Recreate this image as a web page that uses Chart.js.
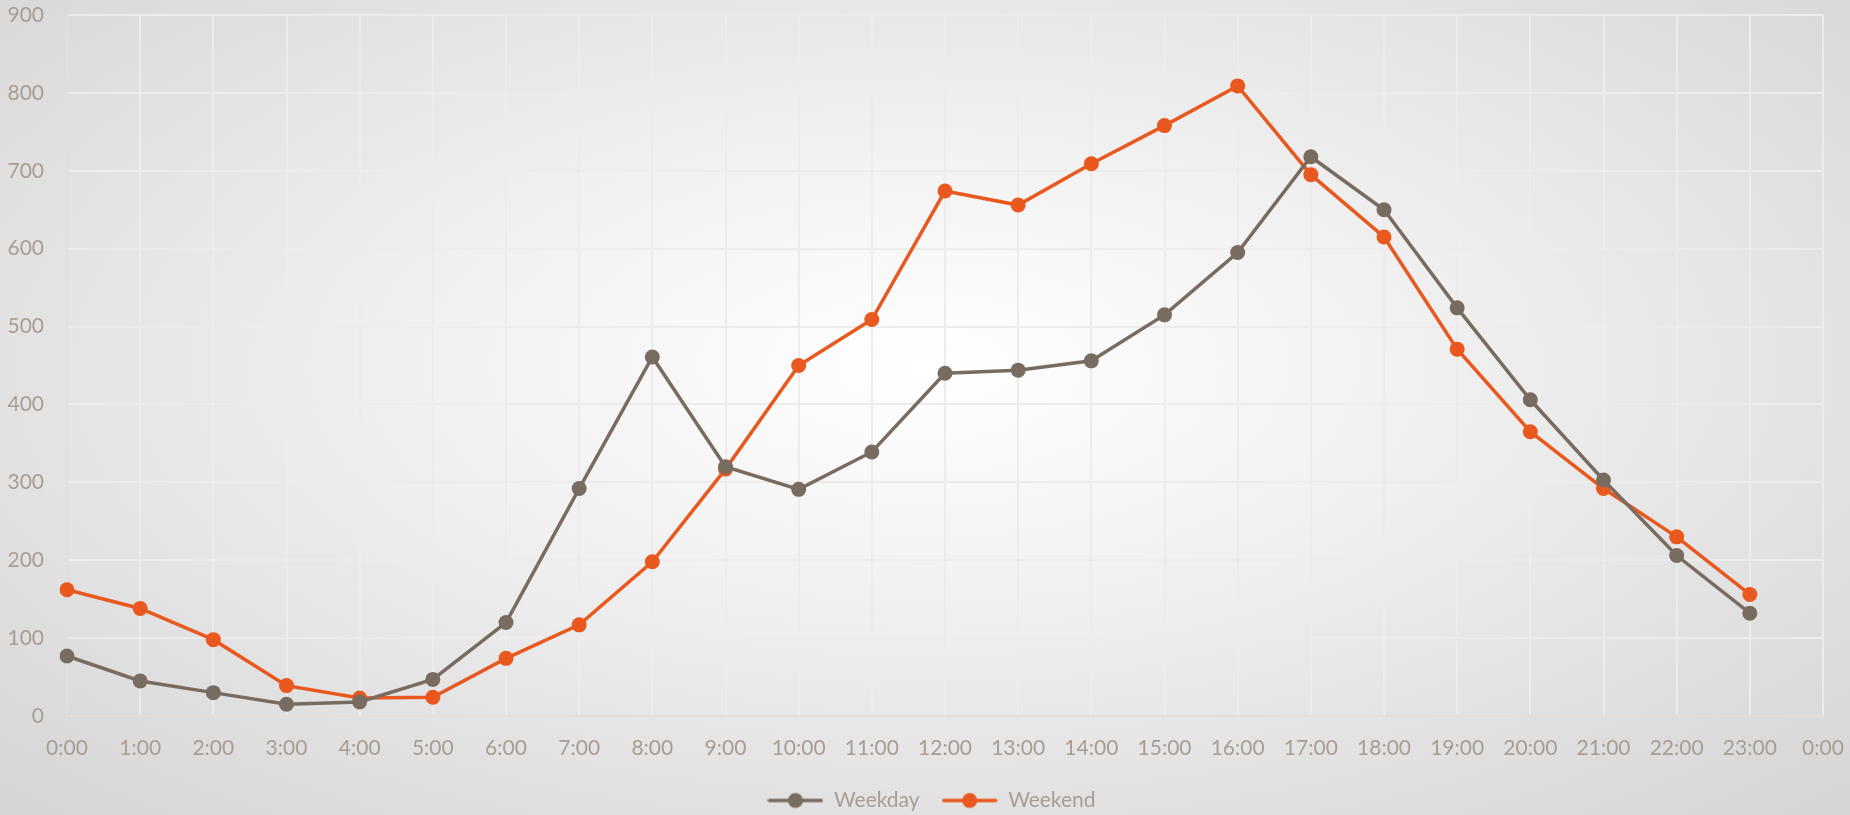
<!DOCTYPE html>
<html>
<head>
<meta charset="utf-8">
<script src="https://cdn.jsdelivr.net/npm/chart.js@4/dist/chart.umd.min.js"></script>
<style>
  html, body { margin: 0; padding: 0; }
  body {
    width: 1850px; height: 815px; overflow: hidden;
    background: radial-gradient(ellipse 75% 80% at 50% 45%, #ffffff 0%, #f1f1f1 35%, #dedede 75%, #d3d3d3 100%);
  }
  #wrap { position: relative; width: 1850px; height: 815px; }
</style>
</head>
<body>
<div id="wrap"><canvas id="chart"></canvas></div>
<script>
// hour labels (last 0:00 closes the day, no value)
var horas = ['0:00','1:00','2:00','3:00','4:00','5:00','6:00','7:00','8:00','9:00','10:00','11:00',
             '12:00','13:00','14:00','15:00','16:00','17:00','18:00','19:00','20:00','21:00','22:00','23:00','0:00'];

var weekday = [77, 45, 30, 15, 18, 47, 120, 292, 461, 320, 291, 339,
               440, 444, 456, 515, 595, 718, 650, 524, 406, 303, 206, 132];

var weekend = [162, 138, 98, 39, 23, 24, 74, 117, 198, 317, 450, 509,
               674, 656, 709, 758, 809, 695, 615, 471, 365, 292, 230, 156];

var color_weekday = '#786c61';
var color_weekend = '#e8581f';
var color_texto = '#a89d92';
var color_grid = '#eeecea';
var fuente = 'Lato, "Open Sans", sans-serif';

// little line + dot icon for the legend
function icono_leyenda(color){
    var c = document.createElement('canvas');
    c.width = 56; c.height = 18;
    var g = c.getContext('2d');
    g.strokeStyle = color;
    g.lineWidth = 3.5;
    g.lineCap = 'round';
    g.beginPath(); g.moveTo(2, 9); g.lineTo(54, 9); g.stroke();
    g.fillStyle = color;
    g.beginPath(); g.arc(28, 9, 7.5, 0, Math.PI*2); g.fill();
    return c;
}
var iconos = [icono_leyenda(color_weekday), icono_leyenda(color_weekend)];

// nudge the legend a bit to the right, like the original
const mover_leyenda = {
  id: 'mover_leyenda',
  afterLayout: function(chart){
    if (chart.legend){ chart.legend.left += 20; chart.legend.right += 20; }
  }
};

const ctx = document.getElementById('chart');

new Chart(ctx, {
  type: 'line',
  data: {
    labels: horas,
    datasets: [{
      label: 'Weekday',
      data: weekday,
      borderColor: color_weekday,
      backgroundColor: color_weekday,
      borderWidth: 3.5,
      pointRadius: 7.5,
      pointHoverRadius: 7.5,
      pointBorderWidth: 0,
      tension: 0
    },
    {
      label: 'Weekend',
      data: weekend,
      borderColor: color_weekend,
      backgroundColor: color_weekend,
      borderWidth: 3.5,
      pointRadius: 7.5,
      pointHoverRadius: 7.5,
      pointBorderWidth: 0,
      tension: 0
    }]
  },
  plugins: [mover_leyenda],
  options: {
    responsive: true,
    maintainAspectRatio: false,
    animation: false,
    layout: { padding: { left: 0, right: 27, top: 15, bottom: -6 } },
    plugins: {
      tooltip: { enabled: false },
      legend: {
        position: 'bottom',
        labels: {
          usePointStyle: true,
          pointStyleWidth: 56,
          boxHeight: 18,
          padding: 22,
          color: color_texto,
          font: { family: fuente, size: 21 },
          generateLabels: function(chart){
            var items = Chart.defaults.plugins.legend.labels.generateLabels(chart);
            items.forEach(function(it, i){ it.pointStyle = iconos[i]; });
            return items;
          }
        }
      }
    },
    scales: {
      x: {
        offset: false,
        grid: { color: color_grid, lineWidth: 2, drawTicks: false },
        border: { color: '#e6ddd4', width: 2 },
        ticks: {
          color: color_texto,
          padding: 20,
          maxRotation: 0,
          autoSkip: false,
          font: { family: fuente, size: 21 }
        },
        afterFit: function(scale){
          scale.height = 52;
          scale.paddingLeft = 0;
          scale.paddingRight = 0;
        }
      },
      y: {
        min: 0,
        max: 900,
        grid: { color: color_grid, lineWidth: 2, drawTicks: false },
        border: { color: '#e6ddd4', width: 2 },
        ticks: {
          stepSize: 100,
          color: color_texto,
          padding: 23,
          font: { family: fuente, size: 21 }
        },
        afterFit: function(scale){
          scale.width = 67;
          scale.paddingTop = 0;
          scale.paddingBottom = 0;
        }
      }
    }
  }
});
</script>
</body>
</html>
